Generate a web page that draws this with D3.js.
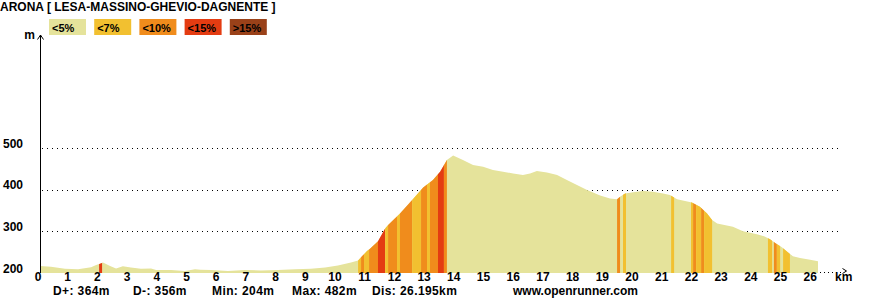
<!DOCTYPE html>
<html>
<head>
<meta charset="utf-8">
<script src="https://cdn.jsdelivr.net/npm/d3@7"></script>
<style>
  html, body { margin: 0; padding: 0; background: #fff; }
  svg text { font-family: "Liberation Sans", Arial, sans-serif; font-weight: bold; fill: #000; }
</style>
</head>
<body>
<svg id="chart" width="880" height="300"></svg>
<script>
// ---------- data ----------
const title = "ARONA [ LESA-MASSINO-GHEVIO-DAGNENTE ]";
const categories = ["<5%", "<7%", "<10%", "<15%", ">15%"];

const dist = [0.00, 0.37, 0.84, 1.28, 1.72, 1.89, 2.02, 2.12, 2.36, 2.56, 2.79, 3.06, 3.40, 3.74, 3.91,
  4.41, 4.88, 5.22, 5.40, 5.76, 6.33, 6.90, 7.44, 8.01, 8.59, 9.12, 9.60, 10.03, 10.47, 10.71,
  10.84, 11.01, 11.11, 11.38, 11.62, 11.72, 12.12, 12.53, 12.90, 13.23, 13.47, 13.70, 13.91,
  14.24, 14.58, 14.92, 15.25, 15.59, 15.93, 16.26, 16.50, 16.73, 17.07, 17.41, 17.74, 18.08,
  18.42, 18.86, 19.19, 19.43, 19.53, 19.70, 19.97, 20.30, 20.64, 20.98, 21.21, 21.45, 21.95,
  22.22, 22.46, 22.63, 22.80, 23.33, 23.67, 24.14, 24.38, 24.58, 24.78, 24.98, 25.18, 25.35,
  25.59, 25.93, 26.195];
const elev = [217, 215, 210, 209, 214, 219, 222, 225, 217, 211, 216, 213, 210, 211, 207,
  207, 205, 209, 208, 207, 205, 207, 206, 207, 209, 210, 213, 218, 225, 230,
  240, 253, 258, 276, 307, 315, 343, 375, 405, 423, 443, 471, 482,
  471, 459, 455, 447, 443, 439, 435, 439, 445, 441, 435, 423, 411,
  399, 386, 379, 377, 383, 391, 394, 397, 395, 391, 387, 377, 369,
  359, 343, 327, 319, 311, 300, 293, 288, 281, 271, 262, 250, 240,
  236, 232, 228];

// gradient stripes: start km, end km, category index
const stripeStart = [1.99, 10.71, 10.81, 10.91, 11.08, 11.38, 11.62, 11.72, 12.02, 12.12, 12.53, 12.83,
  13.03, 13.13, 13.40, 13.60, 19.43, 19.63, 21.25, 21.92, 21.99, 22.09, 22.26, 22.36, 24.51, 24.71, 24.81, 25.02];
const stripeEnd = [2.09, 10.81, 10.91, 11.08, 11.38, 11.62, 11.72, 12.02, 12.12, 12.53, 12.83, 13.03,
  13.13, 13.40, 13.60, 13.70, 19.53, 19.73, 21.35, 21.99, 22.09, 22.26, 22.36, 22.63, 24.65, 24.81, 24.92, 25.25];
const stripeCat = [3, 1, 2, 1, 2, 3, 1, 2, 1, 2, 1, 2,
  1, 2, 3, 2, 2, 1, 1, 1, 2, 1, 2, 1, 1, 2, 1, 1];

const yTicks = [200, 300, 400, 500];
const gridValues = [300, 400, 500];
const xTicks = [0, 1, 2, 3, 4, 5, 6, 7, 8, 9, 10, 11, 12, 13, 14, 15, 16, 17, 18, 19, 20, 21, 22, 23, 24, 25, 26];
const stats = ["D+: 364m", "D-: 356m", "Min: 204m", "Max: 482m", "Dis: 26.195km"];
const site = "www.openrunner.com";

// ---------- styles ----------
const catColors = ["#e5e39b", "#f2c030", "#f08c1c", "#e43c12", "#9a4119"];
const statX = [53, 133, 212, 292, 372];

// ---------- drawing ----------
const svg = d3.select("#chart");
const x = d3.scaleLinear().domain([0, 26.195]).range([40, 818]);
const y = d3.scaleLinear().domain([200, 500]).range([273, 148]);

svg.append("rect").attr("width", 880).attr("height", 300).attr("fill", "#fff");

// title
svg.append("text").attr("x", 0).attr("y", 11).attr("font-size", 12).text(title);

// legend
const leg = svg.append("g").selectAll("g").data(categories).join("g")
  .attr("transform", (d, i) => `translate(${49 + i * 45.2},19)`);
leg.append("rect").attr("width", 37).attr("height", 16).attr("fill", (d, i) => catColors[i]);
leg.append("text").attr("x", 3).attr("y", 12.5).attr("font-size", 11).text(d => d);

// grid lines (dotted)
svg.append("g").selectAll("line").data(gridValues).join("line")
  .attr("x1", 42).attr("x2", 839)
  .attr("y1", d => Math.round(y(d)) + 0.5).attr("y2", d => Math.round(y(d)) + 0.5)
  .attr("stroke", "#000").attr("stroke-width", 1).attr("stroke-dasharray", "1,4");

// x axis dotted baseline
svg.append("line").attr("x1", 40).attr("x2", 842).attr("y1", 272.5).attr("y2", 272.5)
  .attr("stroke", "#000").attr("stroke-dasharray", "1,3");
// x axis arrow
svg.append("path").attr("d", "M842.5,268.5 L846.5,271 L842.5,273.5")
  .attr("fill", "none").attr("stroke", "#000").attr("stroke-width", 1);
svg.append("text").attr("x", 835).attr("y", 281).attr("font-size", 12).text("km");

// profile area
const pts = dist.map((d, i) => [d, elev[i]]);
const area = d3.area().x(d => x(d[0])).y0(y(200)).y1(d => y(d[1]));
svg.append("defs").append("clipPath").attr("id", "prof")
  .append("path").attr("d", area(pts));
svg.append("path").attr("d", area(pts)).attr("fill", catColors[0]);
svg.append("g").attr("clip-path", "url(#prof)").selectAll("rect").data(stripeStart).join("rect")
  .attr("x", d => x(d))
  .attr("width", (d, i) => x(stripeEnd[i]) - x(d))
  .attr("y", 0).attr("height", 300)
  .attr("fill", (d, i) => catColors[stripeCat[i]]);

// y axis
svg.append("line").attr("x1", 40.5).attr("x2", 40.5).attr("y1", 35).attr("y2", 273)
  .attr("stroke", "#000");
svg.append("path").attr("d", "M37.5,39.5 L40.5,35 L43.5,39.5")
  .attr("fill", "none").attr("stroke", "#000");
svg.append("text").attr("x", 35).attr("y", 39).attr("text-anchor", "end").attr("font-size", 12).text("m");

svg.append("g").selectAll("text").data(yTicks).join("text")
  .attr("x", 23).attr("y", d => y(d) - 0.5).attr("text-anchor", "end").attr("font-size", 12)
  .text(d => d);

// x tick labels
svg.append("g").selectAll("text").data(xTicks).join("text")
  .attr("x", d => x(d) - 2).attr("y", 281).attr("text-anchor", "middle").attr("font-size", 12)
  .text(d => d);

// footer stats
svg.append("g").selectAll("text").data(stats).join("text")
  .attr("x", (d, i) => statX[i]).attr("y", 295).attr("font-size", 12)
  .attr("letter-spacing", 0.4).text(d => d);
svg.append("text").attr("x", 513).attr("y", 295).attr("font-size", 12).text(site);
</script>
</body>
</html>
